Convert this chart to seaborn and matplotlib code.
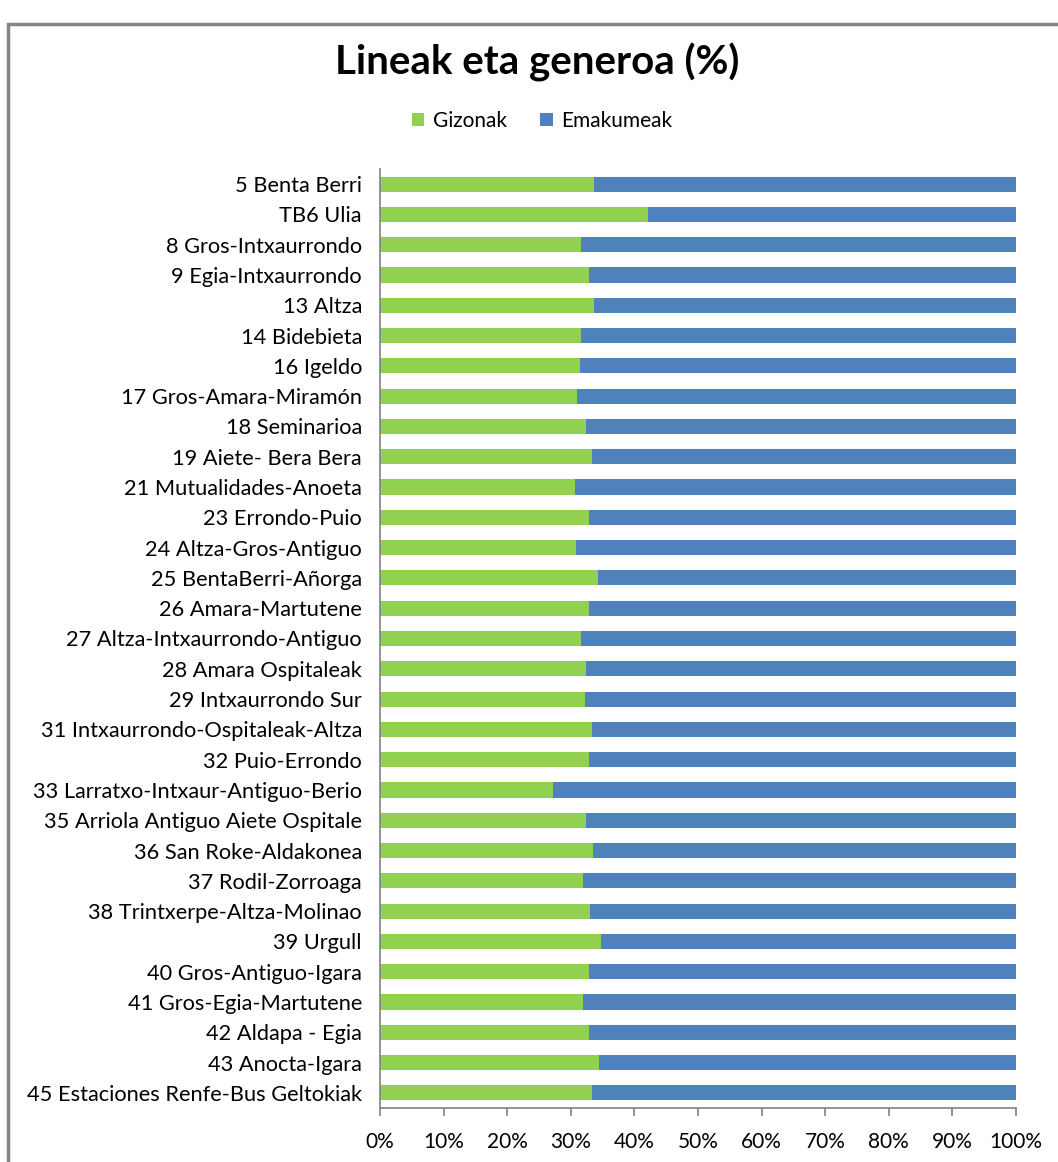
import matplotlib
matplotlib.use("Agg")
import matplotlib.pyplot as plt
import seaborn as sns
import pandas as pd
import numpy as np
from matplotlib.patches import Rectangle
from matplotlib.ticker import FuncFormatter

lines = ["5 Benta Berri", "TB6 Ulia", "8 Gros-Intxaurrondo", "9 Egia-Intxaurrondo",
         "13 Altza", "14 Bidebieta", "16 Igeldo", "17 Gros-Amara-Miramón",
         "18 Seminarioa", "19 Aiete- Bera Bera", "21 Mutualidades-Anoeta",
         "23 Errondo-Puio", "24 Altza-Gros-Antiguo", "25 BentaBerri-Añorga",
         "26 Amara-Martutene", "27 Altza-Intxaurrondo-Antiguo", "28 Amara Ospitaleak",
         "29 Intxaurrondo Sur", "31 Intxaurrondo-Ospitaleak-Altza", "32 Puio-Errondo",
         "33 Larratxo-Intxaur-Antiguo-Berio", "35 Arriola Antiguo Aiete Ospitale",
         "36 San Roke-Aldakonea", "37 Rodil-Zorroaga", "38 Trintxerpe-Altza-Molinao",
         "39 Urgull", "40 Gros-Antiguo-Igara", "41 Gros-Egia-Martutene",
         "42 Aldapa - Egia", "43 Anocta-Igara", "45 Estaciones Renfe-Bus Geltokiak"]
gizonak = [33.6, 42.1, 31.6, 32.9, 33.6, 31.6, 31.4, 31.0, 32.4, 33.3, 30.7,
           32.9, 30.8, 34.3, 32.9, 31.6, 32.4, 32.2, 33.3, 32.9, 27.2, 32.4,
           33.5, 31.9, 33.0, 34.7, 32.9, 31.9, 32.9, 34.4, 33.3]
emakumeak = [100 - g for g in gizonak]
xticks = [0, 10, 20, 30, 40, 50, 60, 70, 80, 90, 100]

df = pd.DataFrame({"linea": lines, "Gizonak": gizonak, "Emakumeak": emakumeak})
df["total"] = df["Gizonak"] + df["Emakumeak"]

sns.set_theme(style="white")
plt.rcParams['font.family'] = ['Lato', 'DejaVu Sans']
plt.rcParams['text.color'] = 'black'
plt.rcParams['xtick.color'] = 'black'
plt.rcParams['ytick.color'] = 'black'

fig = plt.figure(figsize=(10.58, 11.62), dpi=100)
ax = fig.add_axes([380 / 1058, 1 - 1108 / 1162, 636 / 1058, (1108 - 169) / 1162])

green = "#92D050"
blue = "#4F81BD"
sns.barplot(data=df, y="linea", x="total", color=blue, width=0.5, ax=ax,
            orient="h", label="Emakumeak", saturation=1, linewidth=0)
sns.barplot(data=df, y="linea", x="Gizonak", color=green, width=0.5, ax=ax,
            orient="h", label="Gizonak", saturation=1, linewidth=0)

ax.set_xlim(0, 100)
ax.set_ylim(len(lines) - 0.5, -0.5)
ax.set_xticks(xticks)
ax.xaxis.set_major_formatter(FuncFormatter(lambda v, p: f"{int(v)}%"))
ax.set_xlabel("")
ax.set_ylabel("")
for s in ["top", "right"]:
    ax.spines[s].set_visible(False)
ax.spines["left"].set_color("#868686")
ax.spines["bottom"].set_color("#868686")
ax.tick_params(axis="x", which="major", bottom=True, length=6, color="#868686",
               labelsize=15, pad=11, labelcolor="black")
ax.tick_params(axis="y", left=False, length=0, labelsize=15.7, pad=13, labelcolor="black")
ax.grid(False)

# legend
h, l = ax.get_legend_handles_labels()
if ax.get_legend() is not None:
    ax.get_legend().remove()
order = [l.index("Gizonak"), l.index("Emakumeak")]
fig.legend([h[i] for i in order], [l[i] for i in order], loc="center",
           bbox_to_anchor=(542 / 1058, 1 - 121 / 1162), ncol=2, frameon=False,
           fontsize=15, handlelength=0.6, handleheight=0.6, columnspacing=1.6,
           handletextpad=0.4)

fig.text(537 / 1058, 1 - 62 / 1162, "Lineak eta generoa (%)", ha="center", va="center",
         fontsize=29, fontweight="bold", color="black")

fig.patches.append(Rectangle((8 / 1058, -0.1), 1.2, 1 - 24 / 1162 + 0.1,
                             transform=fig.transFigure, fill=False,
                             edgecolor="#868686", linewidth=2.5))

fig.savefig("out.png", dpi=100)
